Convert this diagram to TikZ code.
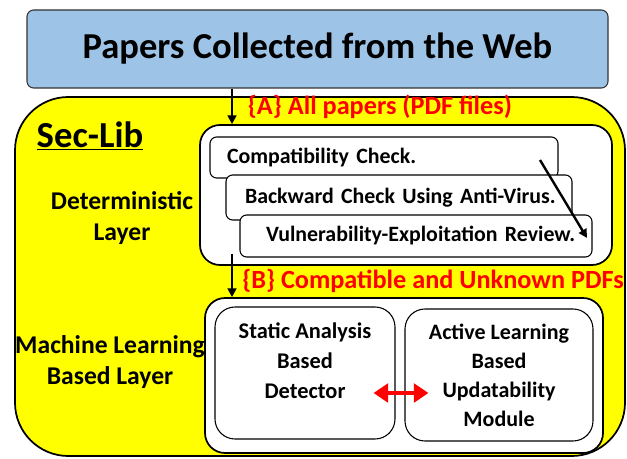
\documentclass[tikz,border=0pt]{standalone}
\usepackage{fontspec}
\setmainfont{Carlito}
\usepackage{xcolor}
\usetikzlibrary{arrows.meta, positioning, calc}

\definecolor{webblue}{HTML}{9DC3E6}
\definecolor{libyellow}{HTML}{FFFF00}

\begin{document}
\begin{tikzpicture}[x=0.75pt, y=-0.75pt,
  font=\bfseries,
  box/.style={draw, rounded corners=5pt, fill=white, line width=0.8pt},
  layer/.style={draw, rounded corners=15pt, fill=white, line width=1.3pt},
  checkbox/.style={box, align=left, minimum height=#1, font=\fontsize{16.4}{19}\selectfont\bfseries},
  tag/.style={text=red, font=\fontsize{19.7}{22}\selectfont\bfseries},
  side/.style={align=center, font=\fontsize{19.2}{23}\selectfont\bfseries},
  arr/.style={-{Triangle[width=6.5pt,length=6.5pt]}, line width=1.8pt},
  dbl/.style={{Triangle[width=14pt,length=11pt]}-{Triangle[width=14pt,length=11pt]}, line width=3pt, red}
]
\useasboundingbox (0,0) rectangle (627,459);

% outer library block
\node[draw, fill=libyellow, rounded corners=40pt, line width=1.3pt,
      minimum width=457.5pt, minimum height=269.25pt] (lib) at (320,276.5) {};
\node[draw=black!80, fill=webblue, rounded corners=5pt, line width=0.8pt,
      minimum width=435.75pt, minimum height=58.5pt,
      font=\fontsize{27.4}{32}\selectfont\bfseries] (web) at (317.5,49) {Papers Collected from the Web};

\node[font=\fontsize{27.5}{32}\selectfont\bfseries] (title) at (90,136) {\underline{Sec-Lib}};

% deterministic layer
\node[layer, minimum width=309pt, minimum height=105pt] (det) at (406,195) {};
\node[checkbox=30.75pt, inner xsep=12.75pt, text width=235.5pt] (compat) at (384,157.5) {\mbox{Compatibility Check.}};
\node[checkbox=33.75pt, inner xsep=14.25pt, text width=231pt] (backward) at (399,197.5) {\mbox{Backward Check Using Anti-Virus.}};
\node[checkbox=31.5pt, inner xsep=19.5pt, text width=225pt] (vuln) at (416,236) {\mbox{Vulnerability-Exploitation Review.}};
\node[side] (detlabel) at (122,218) {Deterministic\\Layer};

% machine learning layer
\node[layer, minimum width=298.5pt, minimum height=116.25pt] (ml) at (404,375.5) {};
\node[box, rounded corners=15pt, minimum width=135pt, minimum height=99pt, align=center,
      font=\fontsize{16.8}{22.5}\selectfont\bfseries] (static) at (305,373) {Static Analysis\\Based\\Detector\\[-4pt]};
\node[box, rounded corners=15pt, minimum width=141pt, minimum height=99pt, align=center,
      font=\fontsize{16.5}{21.8}\selectfont\bfseries] (active) at (499,375) {Active Learning\\Based\\Updatability\\Module};
\node[side] (mllabel) at (110,362) {Machine Learning\\Based Layer};

\node[tag] (tagA) at (380,107) {\{A\} All papers (PDF files)};
\node[tag] (tagB) at (433,281) {\{B\} Compatible and Unknown PDFs};

\coordinate (flowx) at (232,0);
\coordinate (dstart) at (540,160);
\coordinate (dend) at (587,238);

\draw[arr] (web.south -| flowx) -- (det.north -| flowx);
\draw[arr] ($(det.south -| flowx)+(0,-12)$) -- (ml.north -| flowx);
\draw[arr] (dstart) -- (dend);
\draw[dbl] ($(static.east)+(-22,20)$) -- ($(active.west)+(24,18)$);
\end{tikzpicture}
\end{document}
